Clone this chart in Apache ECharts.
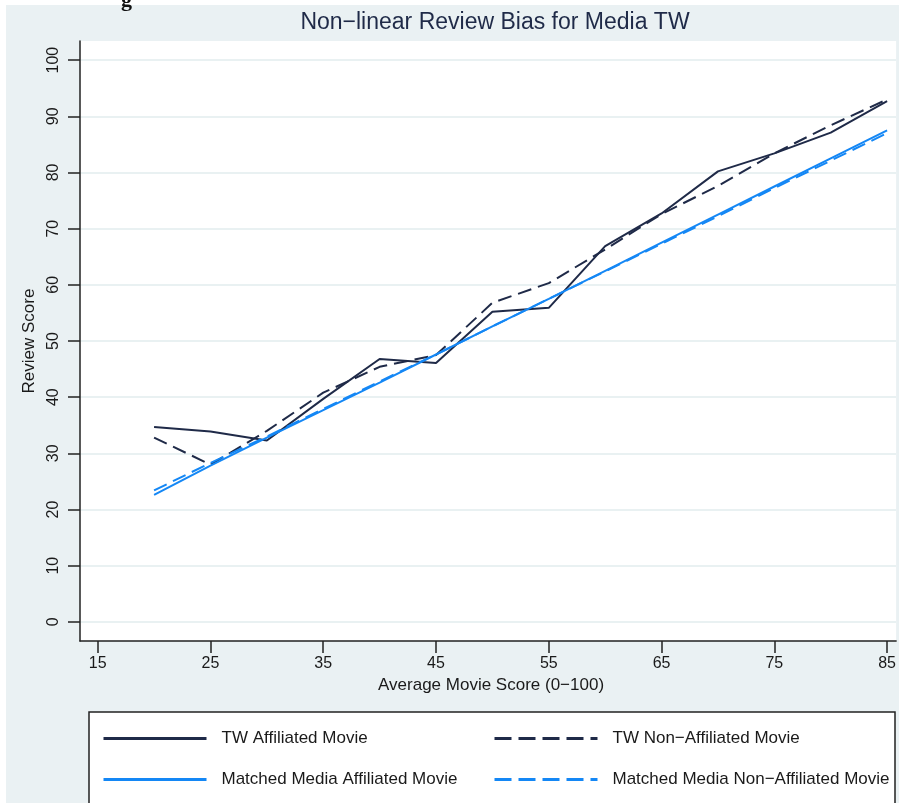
<!DOCTYPE html>
<html>
<head>
<meta charset="utf-8">
<script src="https://cdn.jsdelivr.net/npm/echarts@6.0.0/dist/echarts.min.js"></script>
<style>
html,body{margin:0;padding:0;background:#fff;}
#chart{width:899px;height:803px;}
</style>
</head>
<body>
<div id="chart"></div>
<script>
// ---- data ----
const xScores = [20, 25, 30, 35, 40, 45, 50, 55, 60, 65, 70, 75, 80, 85];
const twAffiliated = [34.7, 33.9, 32.3, 39.7, 46.8, 46.1, 55.2, 55.9, 66.9, 72.7, 80.2, 83.4, 87.1, 92.7];
const twNonAffiliated = [32.8, 28.0, 34.0, 40.8, 45.4, 47.5, 56.8, 60.3, 66.3, 72.6, 77.6, 83.4, 88.4, 93.0];
const matchedAffiliated = [22.6, 27.8, 32.8, 37.7, 42.6, 47.6, 52.6, 57.5, 62.5, 67.5, 72.5, 77.5, 82.5, 87.5];
const matchedNonAffiliated = [23.4, 28.3, 33.0, 37.9, 42.8, 47.6, 52.6, 57.5, 62.4, 67.3, 72.2, 77.2, 82.1, 87.0];
const xTicks = [15, 25, 35, 45, 55, 65, 75, 85];
const yTicks = [0, 10, 20, 30, 40, 50, 60, 70, 80, 90, 100];
const seriesNames = ['TW Affiliated Movie', 'TW Non\u2212Affiliated Movie', 'Matched Media Affiliated Movie', 'Matched Media Non\u2212Affiliated Movie'];
const titleText = 'Non\u2212linear Review Bias for Media TW';
const xName = 'Average Movie Score (0\u2212100)';
const yName = 'Review Score';

const NAVY = '#1f2a48';
const BLUE = '#1487f5';
const FONT = '"Liberation Sans", Arial, sans-serif';

function pairs(ys) { return xScores.map((x, i) => [x, ys[i]]); }

const chart = echarts.init(document.getElementById('chart'), null, {renderer: 'canvas'});
chart.setOption({
  animation: false,
  backgroundColor: '#ffffff',
  textStyle: {fontFamily: FONT},
  title: {
    text: titleText,
    left: 490, top: 6, textAlign: 'center',
    textStyle: {fontFamily: FONT, fontSize: 23, fontWeight: 'normal', color: NAVY}
  },
  graphic: [
    {type: 'rect', z: -20, silent: true, shape: {x: 6, y: 5, width: 893, height: 798}, style: {fill: '#eaf1f3'}},
    {type: 'text', z: -10, silent: true, left: 121, top: -11,
      style: {text: 'g', font: 'bold 22px "Liberation Serif", serif', fill: '#111'}},
    {type: 'rect', z: 1, silent: true, shape: {x: 89, y: 712, width: 806, height: 110},
      style: {fill: '#ffffff', stroke: '#222', lineWidth: 1.5}}
  ],
  grid: {left: 80, right: 1, top: 41, bottom: 162, show: true, backgroundColor: '#ffffff', borderWidth: 0},
  xAxis: {
    type: 'value', min: 13.43, max: 85.8,
    name: xName, nameLocation: 'middle', nameGap: 36,
    nameTextStyle: {fontFamily: FONT, fontSize: 17, color: '#1a1a1a', padding: [0, 0, 0, 6]},
    axisLine: {show: true, onZero: false, lineStyle: {color: '#222', width: 1.5}},
    axisTick: {show: true, length: 12, customValues: xTicks, lineStyle: {color: '#222', width: 1.5}},
    axisLabel: {customValues: xTicks, margin: 15, fontFamily: FONT, fontSize: 16, color: '#1a1a1a'},
    splitLine: {show: false}
  },
  yAxis: {
    type: 'value', min: -3.4, max: 103.4,
    name: yName, nameLocation: 'middle', nameGap: 24, nameRotate: 90,
    nameTextStyle: {fontFamily: FONT, fontSize: 17, color: '#1a1a1a'},
    axisLine: {show: true, onZero: false, lineStyle: {color: '#222', width: 1.5}},
    axisTick: {show: true, length: 12, customValues: yTicks, lineStyle: {color: '#222', width: 1.5}},
    axisLabel: {customValues: yTicks, rotate: 90, margin: 18, fontFamily: FONT, fontSize: 16, color: '#1a1a1a'},
    splitLine: {show: true, lineStyle: {color: '#e9f1f2', width: 2}}
  },
  legend: [
    {
      orient: 'vertical', left: 102, top: 730, padding: 0, itemWidth: 103, itemHeight: 18, itemGap: 24, z: 5,
      itemStyle: {opacity: 0},
      data: [
        {name: seriesNames[0], lineStyle: {width: 3, type: 'solid'}},
        {name: seriesNames[2], lineStyle: {width: 3, type: 'solid'}}
      ],
      textStyle: {fontFamily: FONT, fontSize: 17, color: '#1a1a1a', padding: [0, 0, 0, 10]}
    },
    {
      orient: 'vertical', left: 493, top: 730, padding: 0, itemWidth: 103, itemHeight: 18, itemGap: 24, z: 5,
      itemStyle: {opacity: 0},
      data: [
        {name: seriesNames[1], lineStyle: {width: 3, type: [17, 7]}},
        {name: seriesNames[3], lineStyle: {width: 3, type: [17, 7]}}
      ],
      textStyle: {fontFamily: FONT, fontSize: 17, color: '#1a1a1a', padding: [0, 0, 0, 10]}
    }
  ],
  series: [
    {name: seriesNames[0], type: 'line', data: pairs(twAffiliated), symbol: 'none', z: 3,
      itemStyle: {color: NAVY}, lineStyle: {color: NAVY, width: 2}},
    {name: seriesNames[1], type: 'line', data: pairs(twNonAffiliated), symbol: 'none', z: 3,
      itemStyle: {color: NAVY}, lineStyle: {color: NAVY, width: 2, type: [14, 7]}},
    {name: seriesNames[2], type: 'line', data: pairs(matchedAffiliated), symbol: 'none', z: 3,
      itemStyle: {color: BLUE}, lineStyle: {color: BLUE, width: 2}},
    {name: seriesNames[3], type: 'line', data: pairs(matchedNonAffiliated), symbol: 'none', z: 3,
      itemStyle: {color: BLUE}, lineStyle: {color: BLUE, width: 2, type: [14, 7]}}
  ]
});
</script>
</body>
</html>
